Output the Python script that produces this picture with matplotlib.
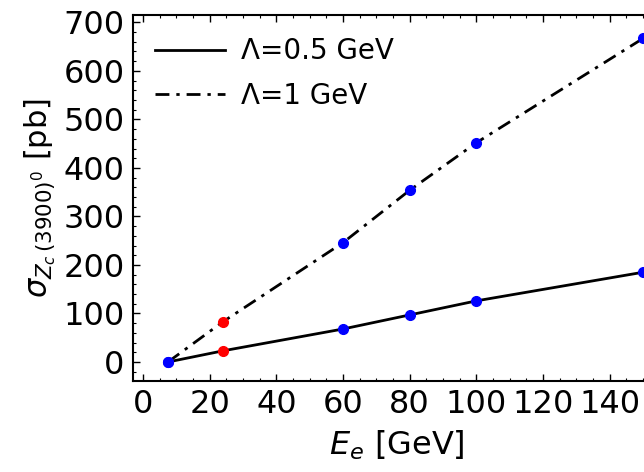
import matplotlib
matplotlib.use("Agg")
import matplotlib.pyplot as plt
from matplotlib.ticker import MultipleLocator

# energies [GeV] and cross sections [pb]
E = [7.5, 24, 60, 80, 100, 150]
sig_05 = [0, 23, 68, 97, 126, 185]
sig_1 = [0, 83, 246, 354, 452, 667]
red_idx = [1]  # points drawn in red

fig = plt.figure(figsize=(6.44, 4.72), dpi=100)
ax = fig.add_axes([0.2065, 0.193, 0.818, 0.775])

ax.plot(E, sig_05, color="black", lw=2, label="Λ=0.5 GeV")
ax.plot(E, sig_1, color="black", lw=2, ls=(0, (5, 2.5, 1.2, 2.5)), label="Λ=1 GeV")

for s in (sig_05, sig_1):
    bx = [e for i, e in enumerate(E) if i not in red_idx]
    by = [v for i, v in enumerate(s) if i not in red_idx]
    rx = [E[i] for i in red_idx]
    ry = [s[i] for i in red_idx]
    ax.plot(bx, by, "o", color="blue", ms=7, zorder=3)
    ax.plot(rx, ry, "o", color="red", ms=7, zorder=3)

ax.set_xlim(-3, 155)
ax.set_ylim(-39, 715)
ax.xaxis.set_major_locator(MultipleLocator(20))
ax.xaxis.set_minor_locator(MultipleLocator(5))
ax.yaxis.set_major_locator(MultipleLocator(100))
ax.yaxis.set_minor_locator(MultipleLocator(20))
ax.tick_params(which="both", direction="in", top=True, right=True, labelsize=23)
ax.tick_params(which="major", length=5, width=1, pad=6)
ax.tick_params(which="minor", length=2.5, width=0.8)
for sp in ax.spines.values():
    sp.set_linewidth(1.5)

ax.set_xlabel(r"$E_e$ [GeV]", fontsize=23, labelpad=6)
ax.set_ylabel(r"$\sigma_{Z_c\,(3900)^0}$ [pb]", fontsize=22, labelpad=4)

ax.legend(loc="upper left", frameon=False, fontsize=20, handlelength=2.5,
          borderaxespad=0.3, handletextpad=0.6, labelspacing=0.6,
          borderpad=0.5)

fig.savefig("out.png", dpi=100)
